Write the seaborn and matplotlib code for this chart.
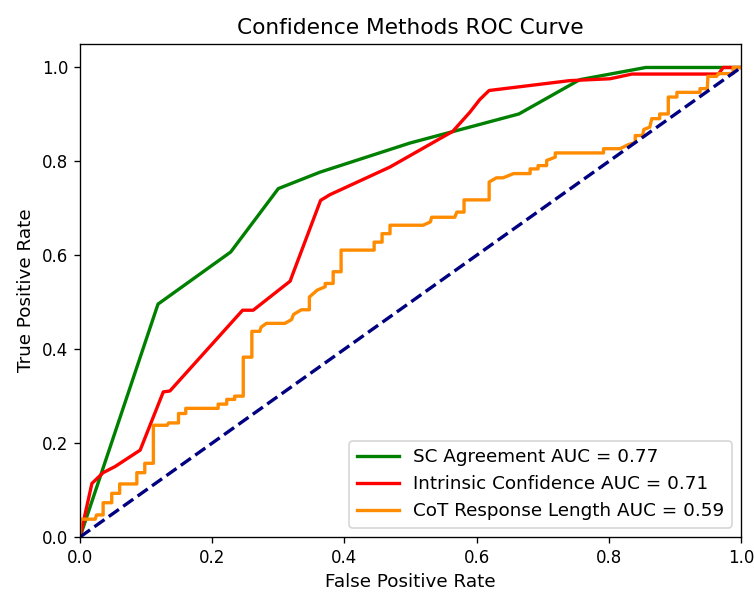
import matplotlib
matplotlib.use("Agg")
import matplotlib.pyplot as plt
import seaborn as sns
import pandas as pd

# SC Agreement ROC
sc_fpr = [0.0, 0.118, 0.228, 0.300, 0.363, 0.499, 0.664, 0.756, 0.856, 1.0]
sc_tpr = [0.0, 0.496, 0.607, 0.742, 0.777, 0.839, 0.901, 0.974, 1.0, 1.0]

# Intrinsic Confidence ROC
ic_fpr = [0.0, 0.018, 0.035, 0.053, 0.091, 0.126, 0.136, 0.246, 0.262, 0.318, 0.320,
          0.364, 0.378, 0.469, 0.564, 0.590, 0.605, 0.619, 0.741, 0.802, 0.835, 0.966,
          0.973, 1.0]
ic_tpr = [0.0, 0.114, 0.137, 0.150, 0.185, 0.309, 0.311, 0.483, 0.483, 0.545, 0.553,
          0.717, 0.729, 0.788, 0.864, 0.905, 0.932, 0.951, 0.972, 0.976, 0.986, 0.986,
          1.0, 1.0]

# CoT Response Length ROC
cot_fpr = [0.0, 0.0, 0.023, 0.025, 0.035, 0.035, 0.048, 0.048, 0.060, 0.060, 0.086, 0.086,
           0.098, 0.098, 0.111, 0.111, 0.132, 0.134, 0.149, 0.149, 0.160, 0.160, 0.209,
           0.209, 0.222, 0.222, 0.234, 0.234, 0.247, 0.247, 0.260, 0.260, 0.272, 0.274,
           0.282, 0.310, 0.320, 0.323, 0.335, 0.347, 0.347, 0.359, 0.371, 0.371, 0.383,
           0.383, 0.395, 0.395, 0.445, 0.445, 0.457, 0.457, 0.469, 0.469, 0.519, 0.530,
           0.532, 0.567, 0.570, 0.581, 0.581, 0.619, 0.619, 0.630, 0.640, 0.656, 0.681,
           0.681, 0.693, 0.693, 0.706, 0.706, 0.719, 0.719, 0.792, 0.792, 0.817, 0.830,
           0.840, 0.840, 0.851, 0.853, 0.862, 0.865, 0.877, 0.877, 0.890, 0.890, 0.903,
           0.903, 0.938, 0.938, 0.949, 0.950, 0.963, 0.966, 0.988, 0.988, 1.0]
cot_tpr = [0.0, 0.038, 0.038, 0.047, 0.047, 0.073, 0.073, 0.093, 0.093, 0.113, 0.113, 0.137,
           0.137, 0.157, 0.157, 0.238, 0.238, 0.243, 0.243, 0.263, 0.263, 0.274, 0.274,
           0.283, 0.283, 0.293, 0.293, 0.300, 0.300, 0.383, 0.383, 0.438, 0.438, 0.447,
           0.455, 0.455, 0.463, 0.474, 0.484, 0.484, 0.511, 0.526, 0.533, 0.540, 0.540,
           0.565, 0.565, 0.611, 0.611, 0.628, 0.628, 0.646, 0.646, 0.664, 0.664, 0.671,
           0.681, 0.681, 0.692, 0.692, 0.718, 0.718, 0.756, 0.765, 0.765, 0.774, 0.774,
           0.784, 0.784, 0.791, 0.791, 0.802, 0.809, 0.818, 0.818, 0.827, 0.827, 0.836,
           0.840, 0.855, 0.855, 0.868, 0.873, 0.891, 0.891, 0.901, 0.901, 0.937, 0.937,
           0.947, 0.947, 0.955, 0.955, 0.981, 0.981, 0.987, 0.987, 1.0, 1.0]

labels = ["SC Agreement AUC = 0.77",
          "Intrinsic Confidence AUC = 0.71",
          "CoT Response Length AUC = 0.59"]
colors = ["green", "red", "darkorange"]
diag = [0.0, 1.0]

fig = plt.figure(figsize=(754 / 120, 592 / 120), dpi=120)
ax = fig.add_axes([80 / 754, 1 - 537 / 592, (741 - 80) / 754, (537 - 44) / 592])

for fpr, tpr, lab, col in zip([sc_fpr, ic_fpr, cot_fpr], [sc_tpr, ic_tpr, cot_tpr], labels, colors):
    df = pd.DataFrame({"fpr": fpr, "tpr": tpr})
    sns.lineplot(data=df, x="fpr", y="tpr", ax=ax, color=col, lw=2, label=lab,
                 sort=False, estimator=None)

sns.lineplot(x=diag, y=diag, ax=ax, color="navy", lw=2, linestyle="--",
             sort=False, estimator=None)

ax.set_xlim(0.0, 1.0)
ax.set_ylim(0.0, 1.05)
ax.set_xlabel("False Positive Rate", fontsize=11)
ax.set_ylabel("True Positive Rate", fontsize=11)
ax.set_title("Confidence Methods ROC Curve", fontsize=13)
ax.legend(loc="lower right", fontsize=11, handlelength=2.3)

fig.savefig("out.png", dpi=120)
